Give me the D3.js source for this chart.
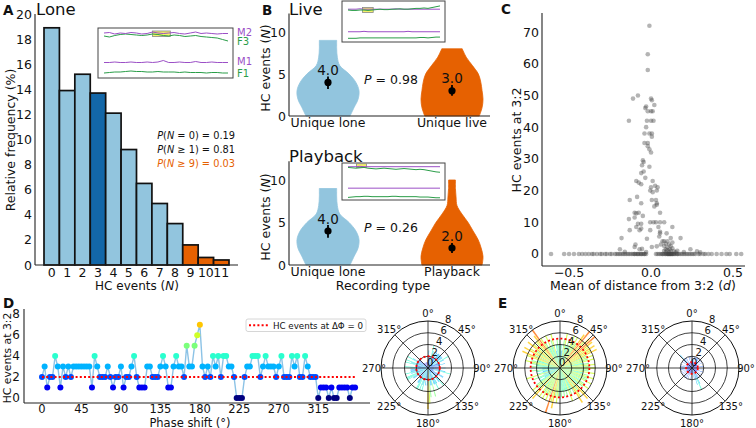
<!DOCTYPE html>
<html><head><meta charset="utf-8">
<script src="https://cdn.jsdelivr.net/npm/d3@7"></script>
<style>body{margin:0;background:#fff} svg{display:block;font-family:"DejaVu Sans",sans-serif}</style>
</head><body><svg id="c" width="756" height="428"></svg>
<script>
// ---------------- DATA ----------------
// Panel A
const loneCategories = [0,1,2,3,4,5,6,7,8,9,10,11];
const loneFrequency = [18.9,13.9,15.2,13.7,12.1,9.2,6.5,4.9,3.3,1.6,0.6,0.4];
const loneGroup = ['base','base','base','median','base','base','base','base','base','tail','tail','tail'];
const loneYTicks = [0,2,4,6,8,10,12,14,16,18,20];
const loneStats = [["(","N"," = 0) = 0.19"],["(","N"," ≥ 1) = 0.81"],["(","N"," ≥ 9) = 0.03"]];
// inset traces (frequency traces, arbitrary units)
const insetA_M2 = [90,91,88,90,89,91,90,88,89,92,90,89,90,91,89,88,90,92,89,90,89,88,89,89];
const insetA_F3 = [84,82,85,87,88,87,86,85,86,88,87,85,84,86,85,83,84,85,83,82,81,80,77,74];
const insetA_M1 = [31,31,32,31,31,32,31,31,32,31,32,35,31,31,32,31,31,33,31,31,32,31,31,31];
const insetA_F1 = [10,11,12,12,13,14,13,13,12,12,13,12,12,12,11,12,11,11,11,10,11,11,10,10];
const liveM2 = [80,80,80,81,80,80,80,80,80,80,80,80,81,80,80,80,80,80,80,80,80,80,80,80];
const liveF3 = [78,77,77,78,78,77,78,79,80,79,79,80,80,81,80,80,81,82,82,83,82,84,86,88];
const liveM1 = [25,25,25,25,26,25,25,25,25,25,25,25,25,25,25,26,25,25,25,25,25,25,25,25];
const liveF1 = [9,9,9,10,10,10,10,10,10,10,10,10,10,10,10,10,10,10,11,11,10,11,12,12];
const pbM2 = [90,90,90,91,90,90,90,90,90,90,90,90,90,90,90,90,90,90,90,90,90,90,90,90];
const pbF3 = [88,87,86,87,88,86,85,84,85,86,85,84,83,84,85,84,83,82,83,82,80,78,76,75];
const pbM1 = [32,32,32,32,32,32,32,32,32,32,32,32,32,32,32,32,32,32,32,32,32,32,32,32];
const pbF1 = [7,8,9,9,10,10,9,9,9,9,9,10,10,9,9,9,9,9,8,8,8,7,6,6];

// Panel B violins
const liveNames = ["Unique lone","Unique live"];
const playbackNames = ["Unique lone","Playback"];
const loneLevels = [0,1,2,3,4,5,6,7,8,9];
const loneDensity = [0.71,0.84,0.97,1.0,0.9,0.68,0.38,0.3,0.28,0.28];
const liveLevels = [0,1,2,3,4,5,6,7,8];
const liveDensity = [0.88,0.97,1.0,0.97,0.93,0.85,0.66,0.46,0.33];
const playbackLevels = [0,1,2,3,4,5,6,7,8,9,10];
const playbackDensity = [0.97,1.0,0.94,0.84,0.68,0.52,0.32,0.16,0.13,0.11,0.11];
const liveMedians = [4.0,3.0];
const liveErrLow = [3.2,2.4];
const liveErrHigh = [4.7,3.7];
const playbackMedians = [4.0,2.0];
const playbackErrLow = [3.2,1.4];
const playbackErrHigh = [4.7,2.6];
const violinYTicks = [0,5,10];

// Panel C
const cX = [-0.01,-0.02,-0.02,-0.11,-0.08,0.0,0.005,-0.03,0.02,-0.035,-0.02,0.0,0.01,-0.135,-0.025,0.0,0.015,-0.03,-0.04,-0.01,0.005,0.005,
 -0.04,-0.02,-0.02,-0.01,0.0,-0.05,-0.045,-0.055,-0.01,-0.06,-0.045,-0.035,-0.09,-0.075,0.01,-0.06,0.0,0.04,-0.005,0.035,0.01,0.025,
 -0.13,-0.085,0.005,0.03,-0.06,0.035,0.02,0.035,-0.1,-0.075,-0.09,0.055,-0.05,-0.1,-0.135,-0.005,0.015,0.03,0.055,0.08,-0.08,-0.06,
 -0.09,-0.06,0.045,-0.13,-0.07,-0.005,0.055,0.095,0.055,0.13,-0.18,0.12,0.18,0.05,0.07,0.08,-0.025,-0.095,-0.1,0.06,0.09,0.08,0.005,
 0.035,-0.07,-0.055,-0.19,0.24,0.12,0.16,0.1,0.13,0.14,0.09,0.11,0.15,0.2,0.08,-0.03,-0.16,0.3,0.28,0.1,0.11,0.12,0.1,0.13,0.115,0.09];
const cY = [72,63,58,49,50,49,48.5,46.5,47,46,45,45,45,42,42,42,42,40,38,38,38,37,
 35,35,34,33,32,29.5,29,28,27.5,25.5,26,24,23,22.5,23,22,21,21,20,20,19.5,21.5,
 17,18,17,17,16,16,15,15.5,13,13,12.8,13,12,11.5,11,10,10,10,10,10,9.5,9.5,
 8.5,8,8.5,7.5,7.5,7.5,7,6.5,6.5,8.5,5,5,5,5.5,4,4,4.8,3,2.2,3,3.2,2.5,2.2,
 2.4,1.5,1.6,1.5,1.5,1,1,1.2,1.8,0.8,0.5,0.6,0.5,0.6,1.0,0.6,0.7,0.5,0.8,2,3,2.5,4,3.6,1.5,1.5];
const cZeroX = [-0.61,-0.53,-0.5,-0.47,-0.44,-0.42,-0.4,-0.38,-0.36,-0.35,-0.33,-0.31,-0.3,-0.28,-0.27,-0.25,-0.24,-0.22,-0.21,-0.2,
 -0.19,-0.18,-0.17,-0.16,-0.15,-0.14,-0.13,-0.12,-0.11,-0.1,-0.09,-0.08,-0.07,-0.06,-0.05,-0.04,-0.03,0.03,0.04,0.05,0.06,0.07,0.08,
 0.09,0.1,0.105,0.11,0.115,0.12,0.125,0.13,0.14,0.15,0.16,0.17,0.18,0.19,0.2,0.21,0.22,0.23,0.24,0.25,0.26,0.27,0.29,0.3,0.32,0.33,
 0.35,0.37,0.4,0.43,0.46,0.48,0.52,0.55,-0.1,-0.08,-0.06,-0.04,0.1,0.11,0.12,0.13,0.07,0.09,0.14,0.16];
const cXTicks = [-0.5,0,0.5];
const cYTicks = [0,10,20,30,40,50,60,70];

// Panel D / E
const phaseStep = 3;
const hcByPhaseD = [2,3,1,2,2,4,3,1,3,2, 3,2,3,3,3,3,3,3,3,1, 4,3,2,2,2,3,2,1,2,2, 3,1,2,2,3,4,2,1,1,1,
 3,3,2,2,2,3,4,3,1,1, 3,4,3,3,2,5,3,3,5,6, 7,3,2,3,2,4,3,4,2,4, 4,3,3,2,0,0,0,2,3,3,
 4,4,4,2,3,4,3,3,3,2, 3,4,2,2,2,4,3,4,2,2, 4,3,2,2,2,0,1,1,1,0, 1,0,0,1,1,1,1,0,1,1];
const hcByPhaseE1 = [5,4,3,5,6,4,5,4,6,5, 6,5,7,8,6,7,8,7,6,7, 6,7,5,6,5,6,4,5,6,5, 6,5,5,6,4,5,6,5,5,6,
 4,5,6,5,4,6,7,5,6,7, 5,4,5,6,4,5,4,5,4,5, 4,5,6,5,7,6,8,5,6,5, 6,5,6,4,7,6,5,6,5,4,
 3,4,5,3,6,4,3,4,5,3, 4,5,4,5,6,5,4,6,7,5, 7,6,5,7,6,5,6,7,8,6, 5,4,6,4,5,6,3,4,5,4];
const hcByPhaseE2 = [1,2,1,0,1,2,1,1,2,1, 2,1,2,1,1,0,1,2,1,1, 1,2,1,1,0,1,1,2,1,1, 1,0,1,2,1,1,1,2,1,0,
 1,1,2,1,1,2,1,1,2,1, 2,3,4,2,3,1,2,1,1,0, 1,1,2,1,0,1,1,2,1,1, 2,1,1,2,1,1,0,1,2,1,
 1,2,1,1,2,1,1,2,2,1, 2,1,1,2,1,1,2,1,1,1, 1,2,1,1,2,1,3,2,1,1, 2,1,1,0,1,2,1,1,2,1];
const dXTicks = [0,45,90,135,180,225,270,315];
const dYTicks = [0,2,4,6,8];
const polarRTicks = [0,2,4,6,8];
const polarAngleTicks = [0,45,90,135,180,225,270,315];

// ---------------- HELPERS ----------------
const svg = d3.select('#c');
const LB = '#92c5de', DB = '#1367a8', OR = '#e66101', PURP = '#9b4fc6', GRN = '#2a9d48';
function T(x,y,s,o={}){const t=svg.append('text').attr('x',x).attr('y',y).text(s)
  .attr('font-size',o.size||12).attr('fill',o.fill||'#111').attr('text-anchor',o.anchor||'start');
  if(o.weight) t.attr('font-weight',o.weight); if(o.italic) t.attr('font-style','italic');
  if(o.base) t.attr('dominant-baseline',o.base); return t;}
function line(x1,y1,x2,y2,c='#222',w=1.1){return svg.append('line').attr('x1',x1).attr('y1',y1).attr('x2',x2).attr('y2',y2).attr('stroke',c).attr('stroke-width',w);}
function vlabel(x,y,parts,size=12.5){const t=svg.append('text').attr('transform',`translate(${x},${y}) rotate(-90)`)
  .attr('text-anchor','middle').attr('dominant-baseline','central').attr('font-size',size).attr('fill','#111');
  parts.forEach(p=>t.append('tspan').text(p[0]).attr('font-style',p[1]?'italic':'normal'));return t;}
function multi(x,y,parts,o={}){const t=svg.append('text').attr('x',x).attr('y',y).attr('font-size',o.size||12)
  .attr('fill',o.fill||'#111').attr('text-anchor',o.anchor||'start');
  parts.forEach(p=>t.append('tspan').text(p[0]).attr('font-style',p[1]?'italic':'normal'));return t;}
const jetStops={r:[[0,0],[0.35,0],[0.66,1],[0.89,1],[1,0.5]],g:[[0,0],[0.125,0],[0.375,1],[0.64,1],[0.91,0],[1,0]],b:[[0,0.5],[0.11,1],[0.34,1],[0.65,0],[1,0]]};
function ip(st,t){for(let i=1;i<st.length;i++){if(t<=st[i][0]){const [x0,y0]=st[i-1],[x1,y1]=st[i];return y0+(y1-y0)*(t-x0)/(x1-x0);}}return st[st.length-1][1];}
function jet(v){const t=Math.max(0,Math.min(1,v/10));return d3.rgb(255*ip(jetStops.r,t),255*ip(jetStops.g,t),255*ip(jetStops.b,t)).formatHex();}

function inset(x0,y0,x1,y1,traces,hl){
  svg.append('rect').attr('x',x0).attr('y',y0).attr('width',x1-x0).attr('height',y1-y0).attr('fill','#fff').attr('stroke','#444').attr('stroke-width',1);
  const xs=d3.scaleLinear().domain([0,23]).range([x0+6,x1-5]);
  const ys=d3.scaleLinear().domain([0,100]).range([y1,y0]);
  svg.append('rect').attr('x',xs(hl[0])).attr('y',ys(hl[3])).attr('width',xs(hl[1])-xs(hl[0])).attr('height',ys(hl[2])-ys(hl[3]))
    .attr('fill','#f5f06a').attr('stroke','#888').attr('stroke-width',0.8);
  const lg=d3.line().x((d,i)=>xs(i)).y(d=>ys(d));
  traces.forEach(tr=>svg.append('path').attr('d',lg(tr[0])).attr('fill','none').attr('stroke',tr[1]).attr('stroke-width',1));
}

// ---------------- PANEL A ----------------
const xA=d3.scaleBand().domain(loneCategories).range([44,229]).padding(0);
const yA=d3.scaleLinear().domain([0,20]).range([265,14]);
const colA={base:LB,median:DB,tail:OR};
svg.append('g').selectAll('rect').data(loneCategories).join('rect')
  .attr('x',d=>xA(d)).attr('y',(d,i)=>yA(loneFrequency[i])).attr('width',xA.bandwidth())
  .attr('height',(d,i)=>yA(0)-yA(loneFrequency[i])).attr('fill',(d,i)=>colA[loneGroup[i]])
  .attr('stroke','#111').attr('stroke-width',1.7);
line(35,14,35,265); line(35,265,238,265);
loneYTicks.forEach(t=>T(32,yA(t),t,{anchor:'end',base:'central',size:12.5}));
loneCategories.forEach(c=>T(xA(c)+xA.bandwidth()/2,277,c,{anchor:'middle',size:12.5}));
vlabel(10,140,[["Relative frequency (%)",0]]);
multi(137,289.5,[["HC events (",0],["N",1],[")",0]],{anchor:'middle'});
T(3,15,'A',{weight:'bold',size:13.5});
T(36,15,'Lone',{size:16.5});
loneStats.forEach((s,i)=>multi(235,139+i*14,[["P",1],[s[0],0],[s[1],1],[s[2],0]],{anchor:'end',size:9.8,fill:i===2?OR:'#111'}));
inset(98,28,233,78,[[insetA_M1,PURP],[insetA_F1,GRN],[insetA_F3,GRN],[insetA_M2,PURP]],[9,12.3,83,94]);
[['M2',35.5,PURP],['F3',45,GRN],['M1',65,PURP],['F1',77,GRN]].forEach(l=>T(237,l[1],l[0],{size:10,fill:l[2]}));

// ---------------- PANEL B ----------------
function violinPanel(o){
  const y=d3.scaleLinear().domain([0,12.2]).range([o.y0,o.y0-12.2*o.ppu]);
  const x=d3.scalePoint().domain(o.names).range([328,452]);
  const w=d3.scaleLinear().domain([0,1]).range([0,31]);
  o.violins.forEach((v,k)=>{
    const cx=x(o.names[k]);
    const pts=v.levels.map((l,i)=>({l,d:v.dens[i]}));
    const area=d3.area().curve(d3.curveCatmullRom).y(d=>y(d.l)).x0(d=>cx-w(d.d)).x1(d=>cx+w(d.d));
    svg.append('path').attr('d',area(pts)).attr('fill',v.color).attr('stroke',v.color).attr('stroke-width',0.8);
    line(cx,y(o.lo[k]),cx,y(o.hi[k]),'#000',1.8);
    svg.append('circle').attr('cx',cx).attr('cy',y(o.med[k])).attr('r',3.6).attr('fill','#000');
    T(cx,y(o.hi[k])-1.5,o.med[k].toFixed(1),{anchor:'middle',size:13.5});
  });
  line(289,o.y0-12.2*o.ppu,289,o.y0); line(289,o.y0,490,o.y0);
  violinYTicks.forEach(t=>T(286,y(t),t,{anchor:'end',base:'central',size:12.5}));
  o.names.forEach(n=>T(x(n),o.y0+11,n,{anchor:'middle',size:12.5}));
  vlabel(265,o.y0-48,[["HC events (",0],["N",1],[")",0]]);
  T(289,o.titleY,o.title,{size:16.5});
  multi(391,o.pY,[["P",1],[" = "+o.p,0]],{anchor:'middle',size:12.5});
}
violinPanel({y0:116,ppu:8.4,names:liveNames,title:'Live',titleY:15,p:'0.98',pY:84,
  violins:[{levels:loneLevels,dens:loneDensity,color:LB},{levels:liveLevels,dens:liveDensity,color:OR}],
  med:liveMedians,lo:liveErrLow,hi:liveErrHigh});
violinPanel({y0:265,ppu:8.5,names:playbackNames,title:'Playback',titleY:162,p:'0.26',pY:232,
  violins:[{levels:loneLevels,dens:loneDensity,color:LB},{levels:playbackLevels,dens:playbackDensity,color:OR}],
  med:playbackMedians,lo:playbackErrLow,hi:playbackErrHigh});
T(262,15,'B',{weight:'bold',size:13.5});
inset(342,1,445,42,[[liveM1,PURP],[liveF1,GRN],[liveM2,PURP],[liveF3,GRN]],[3.6,6.3,72,84]);
inset(342,163,445,200,[[pbM1,PURP],[pbF1,GRN],[pbM2,PURP],[pbF3,GRN]],[2.1,4.6,88,98]);
T(383,289.5,'Recording type',{anchor:'middle',size:12.5});

// ---------------- PANEL C ----------------
const xC=d3.scaleLinear().domain([-0.665,0.573]).range([542,745]);
const yC=d3.scaleLinear().domain([-3.8,76]).range([266,13]);
const gC=svg.append('g');
gC.selectAll('circle.z').data(cZeroX).join('circle').attr('cx',d=>xC(d)).attr('cy',yC(0)).attr('r',2.3).attr('fill','#444').attr('fill-opacity',0.4);
gC.selectAll('circle.n').data(cX).join('circle').attr('cx',d=>xC(d)).attr('cy',(d,i)=>yC(cY[i])).attr('r',2.3).attr('fill','#444').attr('fill-opacity',0.4);
line(542,13,542,266); line(542,266,745,266);
cYTicks.forEach(t=>T(539,yC(t),t,{anchor:'end',base:'central',size:12.5}));
cXTicks.forEach(t=>T(xC(t),276.5,t===0?'0.0':(t<0?'\u2212':'')+Math.abs(t).toFixed(1),{anchor:'middle',size:12.5}));
vlabel(516,140,[["HC events at 3:2",0]]);
multi(643,290,[["Mean of distance from 3:2 (",0],["d",1],[")",0]],{anchor:'middle',size:12.5});
T(501,14,'C',{weight:'bold',size:13.5});

// ---------------- PANEL D ----------------
const xD=d3.scaleLinear().domain([-20.5,374]).range([24,370]);
const yD=d3.scaleLinear().domain([-0.48,8.5]).range([403,309]);
const ptsD=hcByPhaseD.map((v,i)=>({p:i*phaseStep,v}));
svg.append('path').attr('d',d3.line().x(d=>xD(d.p)).y(d=>yD(d.v))(ptsD)).attr('fill','none').attr('stroke','#8cc3e6').attr('stroke-width',1.4);
svg.append('g').selectAll('circle').data(ptsD).join('circle').attr('cx',d=>xD(d.p)).attr('cy',d=>yD(d.v)).attr('r',3).attr('fill',d=>jet(d.v));
svg.append('line').attr('x1',xD(0)).attr('x2',xD(357)).attr('y1',yD(hcByPhaseD[0])).attr('y2',yD(hcByPhaseD[0]))
  .attr('stroke','#ff0000').attr('stroke-width',2).attr('stroke-dasharray','2,2.2');
line(24,309,24,403); line(24,403,370,403);
dYTicks.forEach(t=>T(20,yD(t),t,{anchor:'end',base:'central',size:12}));
dXTicks.forEach(t=>T(xD(t),412.5,t,{anchor:'middle',size:11.5}));
vlabel(7,358,[["HC events at 3:2",0]],10.8);
T(190,426.5,'Phase shift (°)',{anchor:'middle',size:11.5});
T(3,308,'D',{weight:'bold',size:13.5});
svg.append('rect').attr('x',246).attr('y',319).attr('width',120).attr('height',12.5).attr('rx',2).attr('fill','#fff').attr('stroke','#ccc').attr('stroke-width',0.8);
line(249,325.3,268,325.3,'#ff0000',2).attr('stroke-dasharray','2,2.2');
T(273,328.6,'HC events at ΔΦ = 0',{size:8.7});

// ---------------- POLAR ----------------
function polar(cx,cy,values){
  const g=svg.append('g').attr('transform',`translate(${cx},${cy})`);
  const r=d3.scaleLinear().domain([0,8]).range([0,47]);
  const step=360/values.length*Math.PI/180, w=2.1*Math.PI/180;
  const arc=d3.arc();
  values.forEach((v,i)=>{ if(v<=0) return; const a=i*step;
    g.append('path').attr('d',arc({innerRadius:0,outerRadius:r(v),startAngle:a-w/2,endAngle:a+w/2}))
     .attr('fill',jet(v)).attr('fill-opacity',0.75);});
  [2,4,6].forEach(t=>g.append('circle').attr('r',r(t)).attr('fill','none').attr('stroke','#111').attr('stroke-width',0.8));
  g.append('circle').attr('r',r(8)).attr('fill','none').attr('stroke','#111').attr('stroke-width',1);
  polarAngleTicks.forEach(a=>{const t=a*Math.PI/180;
    g.append('line').attr('x1',0).attr('y1',0).attr('x2',r(8)*Math.sin(t)).attr('y2',-r(8)*Math.cos(t)).attr('stroke','#111').attr('stroke-width',0.8);
    const d=(a===90||a===270)?54:55; g.append('text').attr('x',d*Math.sin(t)).attr('y',-d*Math.cos(t)).attr('text-anchor','middle').attr('dominant-baseline','central')
      .attr('font-size',10).attr('fill','#111').text(a+'°');});
  g.append('circle').attr('r',r(values[0])).attr('fill','none').attr('stroke','#ff0000').attr('stroke-width',1.8).attr('stroke-dasharray','2,2.2');
  const ra=22.5*Math.PI/180;
  polarRTicks.forEach(t=>{const d=r(t)+5.5; g.append('text').attr('x',d*Math.sin(ra)).attr('y',-d*Math.cos(ra)).attr('text-anchor','middle')
    .attr('dominant-baseline','central').attr('font-size',10).attr('fill','#111').text(t);});
}
polar(428,368,hcByPhaseD);
polar(560,368,hcByPhaseE1);
polar(692,368,hcByPhaseE2);
T(498,308,'E',{weight:'bold',size:13.5});
</script></body></html>
